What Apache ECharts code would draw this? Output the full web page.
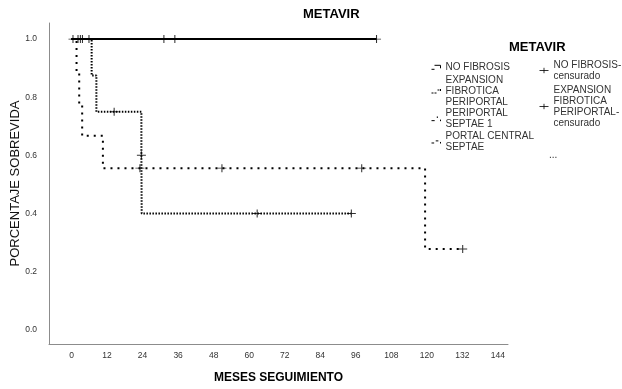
<!DOCTYPE html>
<html>
<head>
<meta charset="utf-8">
<script src="https://cdn.jsdelivr.net/npm/echarts@6/dist/echarts.min.js"></script>
<style>html,body{margin:0;padding:0;background:#fff}#c{width:622px;height:389px}</style>
</head>
<body>
<div id="c"></div>
<script>
// Kaplan-Meier step data (months, survival proportion)
const noFibTimes = [0, 103];
const noFibSurv = [1, 1];
const expTimes = [0, 1.7, 2.6, 3.6, 10.6, 119.4, 132.1];
const expSurv = [1, 0.889, 0.778, 0.667, 0.556, 0.278, 0.278];
const septTimes = [0, 6.8, 8.4, 23.6, 23.7, 94.5];
const septSurv = [1, 0.875, 0.75, 0.6, 0.4, 0.4];
const portalTimes = [0, 31.2];
const portalSurv = [1, 1];

// censored observations
const noFibCensT = [0.5, 34.9, 103];
const noFibCensS = [1, 1, 1];
const expCensT = [23.1, 50.8, 98.0, 132.1];
const expCensS = [0.556, 0.556, 0.556, 0.278];
const septCensT = [14.4, 23.6, 62.7, 94.5];
const septCensS = [0.75, 0.6, 0.4, 0.4];
const portalCensT = [2.2, 3.0, 3.7, 5.9, 31.2];
const portalCensS = [1, 1, 1, 1, 1];

const xTicks = [0, 12, 24, 36, 48, 60, 72, 84, 96, 108, 120, 132, 144];
const yTicks = [0, 0.2, 0.4, 0.6, 0.8, 1.0];

const groupNames = ['NO FIBROSIS', 'EXPANSION FIBROTICA PERIPORTAL', 'PERIPORTAL SEPTAE 1', 'PORTAL CENTRAL SEPTAE'];
const censName = g => g + '-censurado';
const legendLabels = {
  'NO FIBROSIS': 'NO FIBROSIS',
  'EXPANSION FIBROTICA PERIPORTAL': 'EXPANSION\nFIBROTICA\nPERIPORTAL',
  'PERIPORTAL SEPTAE 1': 'PERIPORTAL\nSEPTAE 1',
  'PORTAL CENTRAL SEPTAE': 'PORTAL CENTRAL\nSEPTAE',
  'NO FIBROSIS-censurado': 'NO FIBROSIS-\ncensurado',
  'EXPANSION FIBROTICA PERIPORTAL-censurado': 'EXPANSION\nFIBROTICA\nPERIPORTAL-\ncensurado'
};

const FONT = 'Liberation Sans, Arial, sans-serif';
const zip = (a, b) => a.map((v, i) => [v, b[i]]);
const plus = 'path://M0,4H9M4.5,0.5V7.5';

function stepSeries(name, t, s, dash, width) {
  return {
    name, type: 'line', step: 'end', symbol: 'none', clip: false,
    data: zip(t, s),
    lineStyle: { color: '#000', width: width, type: dash, cap: 'butt' },
    emphasis: { disabled: true }, silent: true, z: 2
  };
}
function censSeries(name, t, s) {
  return {
    name, type: 'scatter', symbol: plus, symbolSize: [9, 8], clip: false,
    data: zip(t, s),
    itemStyle: { color: 'none', borderColor: '#000', borderWidth: 1 },
    emphasis: { disabled: true }, silent: true, z: 3
  };
}

const legendBase = {
  orient: 'vertical', padding: 0, itemGap: 0, itemHeight: 6, itemWidth: 9,
  selectedMode: false, formatter: n => legendLabels[n],
  textStyle: { fontSize: 10, lineHeight: 11, color: '#333', fontFamily: FONT },
  itemStyle: { color: 'none', borderColor: '#000', borderWidth: 1 }
};
function leg(left, top, name, icon) {
  return Object.assign({}, legendBase, { left, top, data: [{ name, icon }] });
}

const chart = echarts.init(document.getElementById('c'), null, { renderer: 'canvas' });
chart.setOption({
  animation: false,
  backgroundColor: '#fff',
  title: [
    { text: 'METAVIR', left: 303, top: 8, padding: 0,
      textStyle: { fontSize: 13, fontWeight: 'bold', color: '#000', fontFamily: FONT } },
    { text: 'METAVIR', left: 509, top: 41, padding: 0,
      textStyle: { fontSize: 13, fontWeight: 'bold', color: '#000', fontFamily: FONT } }
  ],
  legend: [
    leg(429, 61.8, groupNames[0], 'path://M0,5H3M3,1H9V4'),
    leg(429, 74.5, groupNames[1], 'path://M0,5H2M3,5H5M6,2H8M9,1V3'),
    leg(429, 107.8, groupNames[2], 'path://M0,5H3M5.5,1V2.5M8.5,4V5.5'),
    leg(429, 131.2, groupNames[3], 'path://M0,5H2.5M4,3H6.5M8.5,4V5.5'),
    leg(537, 59.5, censName(groupNames[0]), 'path://M0,3H10M5,0V6'),
    leg(537, 84.5, censName(groupNames[1]), 'path://M0,3H10M5,0V6')
  ],
  graphic: [
    { type: 'text', left: 549, top: 150, silent: true,
      style: { text: '...', fontSize: 10, fill: '#333', fontFamily: FONT } }
  ],
  grid: { left: 49, right: 114, top: 23, bottom: 45, containLabel: false, outerBoundsMode: 'none' },
  xAxis: {
    type: 'value', min: -7.6, max: 147.4,
    name: 'MESES SEGUIMIENTO', nameLocation: 'middle', nameGap: 28, nameMoveOverlap: false,
    nameTextStyle: { fontSize: 12, fontWeight: 'bold', color: '#000', fontFamily: FONT },
    axisLine: { show: true, onZero: false, lineStyle: { color: '#8c8c8c', width: 1 } },
    axisTick: { show: false },
    splitLine: { show: false },
    axisLabel: { customValues: xTicks, fontSize: 8.5, color: '#333', margin: 7, fontFamily: FONT,
      formatter: v => String(v) }
  },
  yAxis: {
    type: 'value', min: -0.0492, max: 1.0554,
    name: 'PORCENTAJE SOBREVIDA', nameLocation: 'middle', nameGap: 27, nameRotate: 90,
    nameMoveOverlap: false,
    nameTextStyle: { fontSize: 13, color: '#111', fontFamily: FONT },
    axisLine: { show: true, onZero: false, lineStyle: { color: '#8c8c8c', width: 1 } },
    axisTick: { show: false },
    splitLine: { show: false },
    axisLabel: { customValues: yTicks, fontSize: 8.5, color: '#333', margin: 12, fontFamily: FONT,
      formatter: v => v.toFixed(1) }
  },
  series: [
    stepSeries(groupNames[3], portalTimes, portalSurv, [4, 3], 2),
    stepSeries(groupNames[1], expTimes, expSurv, [2, 5], 2),
    stepSeries(groupNames[2], septTimes, septSurv, [1.5, 1.5], 2),
    stepSeries(groupNames[0], noFibTimes, noFibSurv, 'solid', 2),
    censSeries(censName(groupNames[0]), noFibCensT, noFibCensS),
    censSeries(censName(groupNames[1]), expCensT, expCensS),
    censSeries(censName(groupNames[2]), septCensT, septCensS),
    censSeries(censName(groupNames[3]), portalCensT, portalCensS)
  ]
});
</script>
</body>
</html>
